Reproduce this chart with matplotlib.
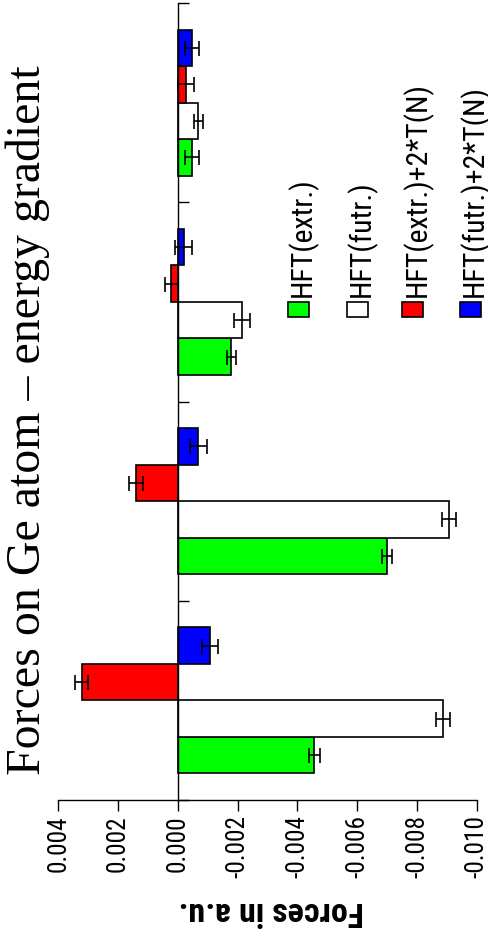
import numpy as np
import matplotlib
matplotlib.use('Agg')
import matplotlib.pyplot as plt
from matplotlib import font_manager
from matplotlib.patches import Rectangle

# data (negative force = towards right of the rotated plot)
groups = [0, 1, 2, 3]
series = ['HFT(extr.)', 'HFT(futr.)', 'HFT(extr.)+2*T(N)', 'HFT(futr.)+2*T(N)']
colors = ['#00ff00', '#ffffff', '#ff0000', '#0000ff']
hft_extr = [-0.00457, -0.00699, -0.00179, -0.00047]
hft_futr = [-0.00887, -0.00907, -0.00216, -0.00069]
hft_extr_tn = [0.00321, 0.00140, 0.00022, -0.00027]
hft_futr_tn = [-0.00108, -0.00069, -0.00019, -0.00047]
err_extr = [0.00017, 0.00017, 0.00016, 0.00024]
err_futr = [0.00023, 0.00023, 0.00027, 0.00016]
err_extr_tn = [0.00022, 0.00022, 0.00021, 0.00027]
err_futr_tn = [0.00027, 0.00029, 0.00027, 0.00024]
xticks = [0.004, 0.002, 0.0, -0.002, -0.004, -0.006, -0.008, -0.010]
xticklabels = ['0.004', '0.002', '0.000', '-0.002', '-0.004', '-0.006', '-0.008', '-0.010']
title = 'Forces on Ge atom \u2013 energy gradient'
xlabel = 'Forces in a.u.'

values = [hft_extr, hft_futr, hft_extr_tn, hft_futr_tn]
errors = [err_extr, err_futr, err_extr_tn, err_futr_tn]

# narrow sans fonts, whatever is installed
names = {f.name for f in font_manager.fontManager.ttflist}
def first_font(cands):
    for c in cands:
        if c in names:
            return c
    return 'DejaVu Sans'
sans = first_font(['Nimbus Sans Narrow', 'Liberation Sans Narrow', 'Arial Narrow',
                   'Roboto Condensed', 'Archivo Narrow', 'PT Sans Narrow'])
sans_bold = first_font(['Nimbus Sans Narrow', 'Liberation Sans Narrow', 'Arial Narrow',
                        'Roboto Condensed', 'PT Sans Narrow'])

W, H = 489, 940
fig = plt.figure(figsize=(W / 100, H / 100), dpi=100)
renderer = fig.canvas.get_renderer()

def fx(px):
    return px / W

def fy(py):
    return 1 - py / H

# font size that makes a string the given length in pixels
def fit_size(s, target, **kw):
    t = fig.text(0, 0, s, fontsize=20, **kw)
    w = t.get_window_extent(renderer=renderer).width
    t.remove()
    return 20 * target / w

tick_fs = fit_size('0.004', 57, family=sans)
leg_fs = fit_size('HFT(extr.)+2*T(N)', 215, family=sans)
lab_fs = fit_size(xlabel, 185, family=sans_bold, fontweight='bold', fontstretch='condensed')
title_fs = fit_size(title, 710, family='Liberation Serif')

ax = fig.add_axes([fx(58.3), fy(800), fx(476.7) - fx(58.3), fy(3) - fy(800)])

bar_h = 0.183
for k in range(4):
    pos = np.array(groups) + 0.5 + (k - 1.5) * bar_h
    ax.barh(pos, values[k], height=bar_h, color=colors[k], edgecolor='black',
            linewidth=1.2, xerr=errors[k], ecolor='black',
            error_kw=dict(elinewidth=1.2, capsize=5.4, capthick=1.2))

ax.set_xlim(0.004, -0.010)
ax.set_ylim(0, 4)

ax.spines['top'].set_visible(False)
ax.spines['right'].set_visible(False)
ax.spines['left'].set_position(('data', 0))
ax.spines['left'].set_linewidth(1.0)
ax.spines['bottom'].set_linewidth(1.0)

ax.set_yticks([0, 1, 2, 3, 4])
ax.set_yticklabels([])
ax.tick_params(axis='y', direction='in', length=8, width=1.0)

ax.set_xticks(xticks)
ax.set_xticklabels(xticklabels, rotation=90, fontsize=tick_fs, family=sans)
ax.tick_params(axis='x', direction='out', length=8, width=1.0, pad=3)

# axis label, upside down
fig.text(fx(271), fy(911), xlabel, rotation=180, fontsize=lab_fs,
         fontweight='bold', fontstretch='condensed', family=sans_bold,
         ha='center', va='center')

# title, running up the left side
fig.text(fx(28), fy(420), title, rotation=90, fontsize=title_fs,
         family='Liberation Serif', ha='center', va='center')

# legend drawn by hand because the text is rotated
leg_x = [298.5, 357.5, 413, 470.5]
for k in range(4):
    fig.patches.append(Rectangle((fx(leg_x[k] - 10.5), fy(317)), 21 / W, 15 / H,
                                 transform=fig.transFigure, facecolor=colors[k],
                                 edgecolor='black', linewidth=1.2))
    fig.text(fx(leg_x[k] + 4), fy(297), series[k], rotation=90, fontsize=leg_fs,
             family=sans, ha='center', va='bottom')

fig.savefig('out.png', dpi=100)
